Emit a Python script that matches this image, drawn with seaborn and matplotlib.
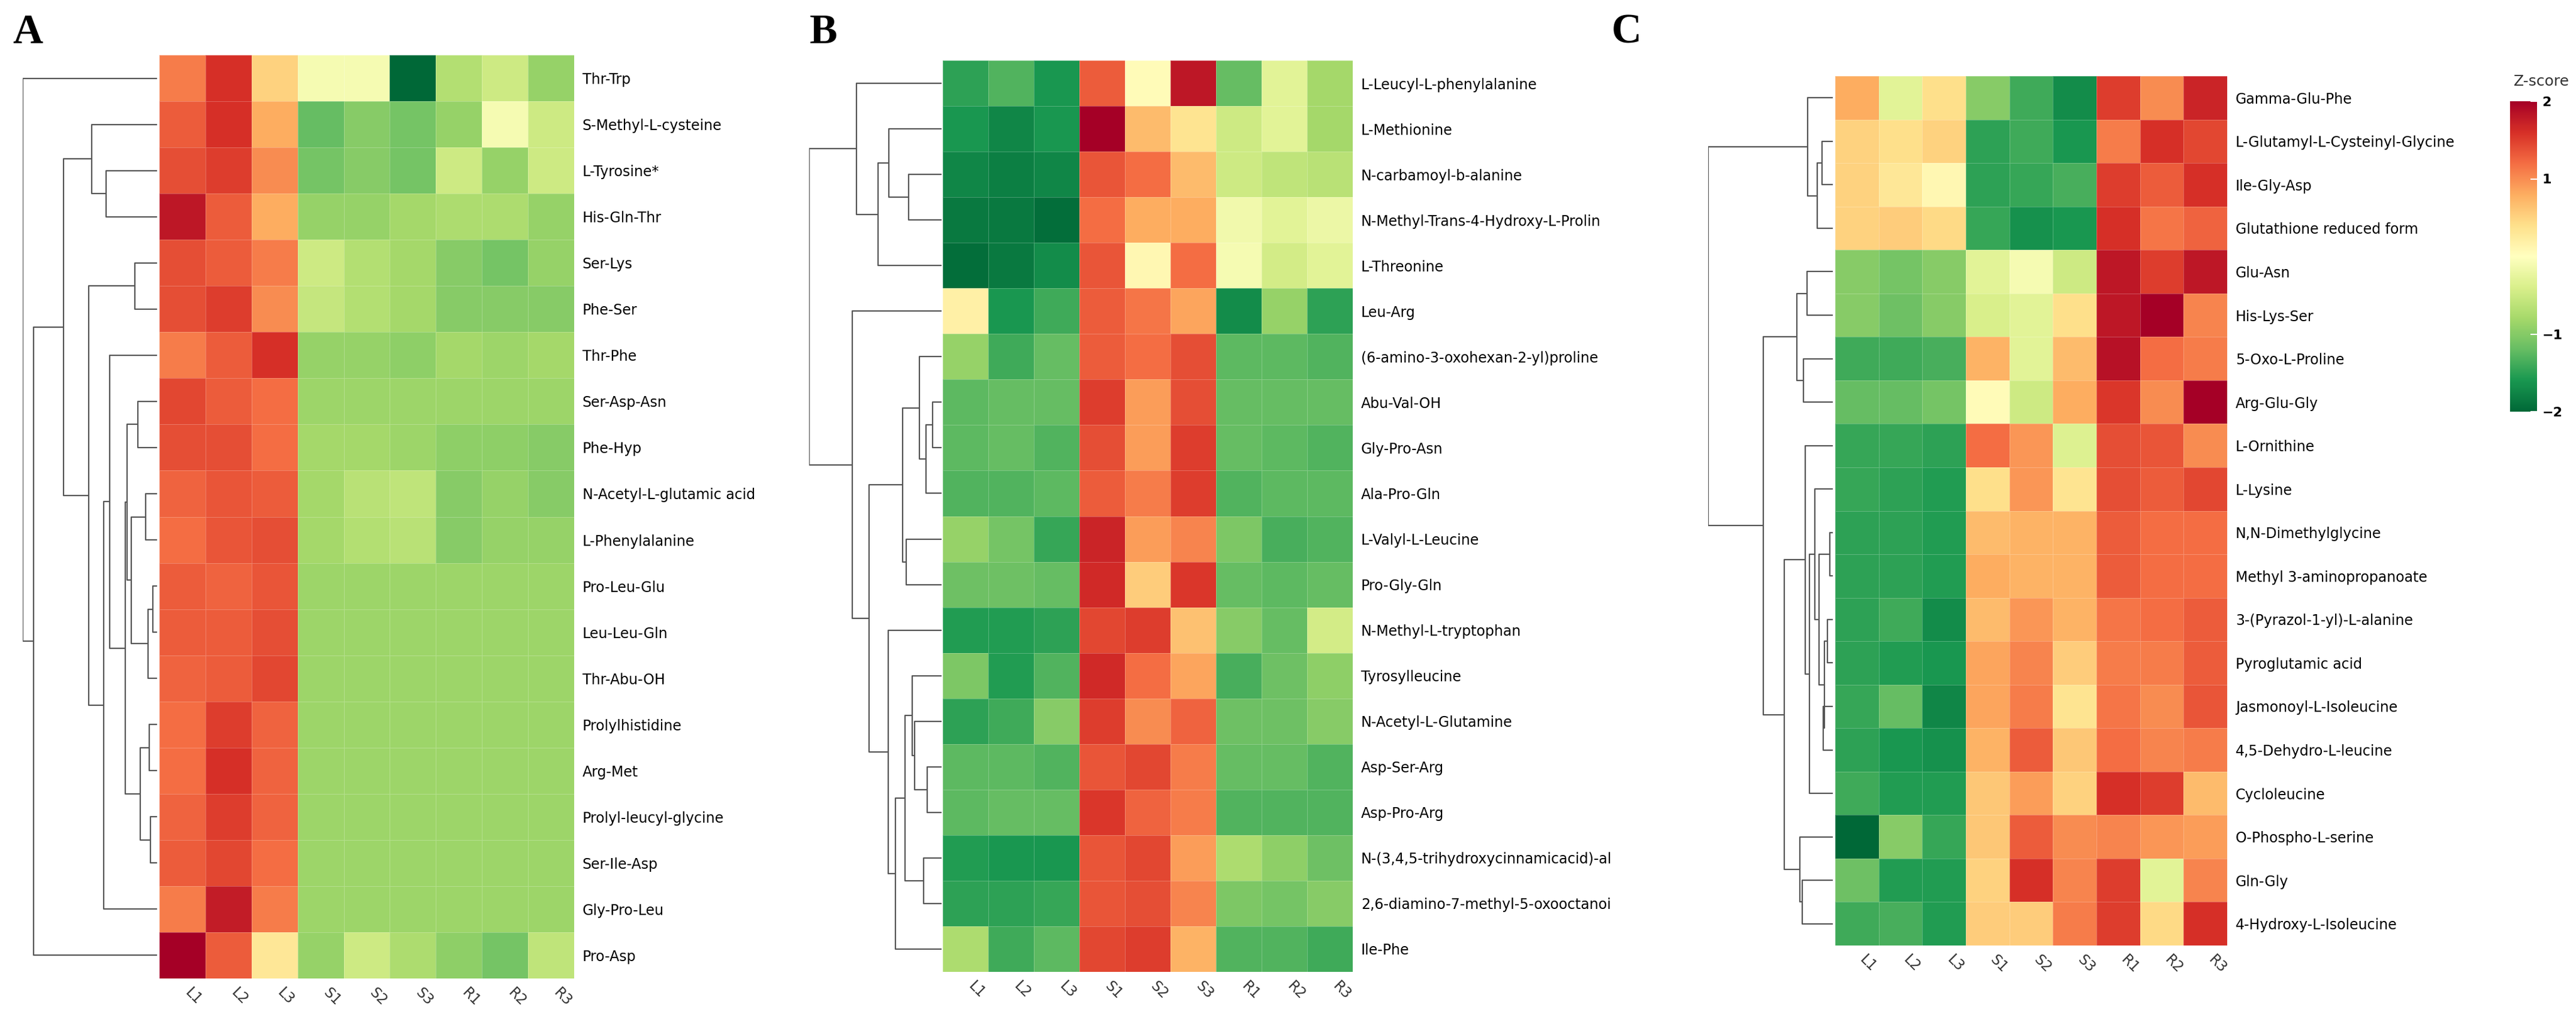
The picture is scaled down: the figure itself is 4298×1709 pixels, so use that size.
import numpy as np
import pandas as pd
import seaborn as sns
import matplotlib.pyplot as plt

W, H = 4298, 1709
samples = ["L1", "L2", "L3", "S1", "S2", "S3", "R1", "R2", "R3"]

# ---- panel A ----
rows_a = ["Thr-Trp", "S-Methyl-L-cysteine", "L-Tyrosine*", "His-Gln-Thr", "Ser-Lys", "Phe-Ser",
          "Thr-Phe", "Ser-Asp-Asn", "Phe-Hyp", "N-Acetyl-L-glutamic acid", "L-Phenylalanine",
          "Pro-Leu-Glu", "Leu-Leu-Gln", "Thr-Abu-OH", "Prolylhistidine", "Arg-Met",
          "Prolyl-leucyl-glycine", "Ser-Ile-Asp", "Gly-Pro-Leu", "Pro-Asp"]
vals_a = [
    [1.1, 1.6, 0.5, -0.1, -0.1, -2.0, -0.7, -0.5, -0.9],
    [1.3, 1.6, 0.8, -1.2, -1.0, -1.1, -0.9, -0.1, -0.5],
    [1.4, 1.5, 1.0, -1.1, -1.0, -1.1, -0.5, -0.9, -0.5],
    [1.8, 1.3, 0.8, -0.9, -0.9, -0.8, -0.75, -0.75, -0.9],
    [1.4, 1.3, 1.1, -0.5, -0.7, -0.8, -1.0, -1.1, -0.9],
    [1.4, 1.5, 1.0, -0.55, -0.7, -0.8, -1.0, -1.0, -1.0],
    [1.1, 1.3, 1.6, -0.9, -0.9, -0.95, -0.8, -0.85, -0.8],
    [1.45, 1.3, 1.2, -0.85, -0.85, -0.85, -0.85, -0.85, -0.85],
    [1.4, 1.4, 1.2, -0.8, -0.8, -0.85, -0.95, -0.95, -1.0],
    [1.25, 1.35, 1.3, -0.8, -0.65, -0.6, -1.0, -0.9, -1.0],
    [1.2, 1.35, 1.4, -0.8, -0.7, -0.65, -1.0, -0.9, -0.9],
    [1.3, 1.25, 1.35, -0.85, -0.85, -0.85, -0.85, -0.85, -0.85],
    [1.3, 1.3, 1.4, -0.85, -0.85, -0.85, -0.85, -0.85, -0.85],
    [1.25, 1.3, 1.45, -0.85, -0.85, -0.85, -0.85, -0.85, -0.85],
    [1.2, 1.5, 1.25, -0.85, -0.85, -0.85, -0.85, -0.85, -0.85],
    [1.2, 1.6, 1.25, -0.85, -0.85, -0.85, -0.85, -0.85, -0.85],
    [1.25, 1.5, 1.25, -0.85, -0.85, -0.85, -0.85, -0.85, -0.85],
    [1.3, 1.45, 1.2, -0.85, -0.85, -0.85, -0.85, -0.85, -0.85],
    [1.1, 1.75, 1.1, -0.85, -0.85, -0.85, -0.85, -0.85, -0.85],
    [2.0, 1.3, 0.3, -0.9, -0.5, -0.75, -0.95, -1.1, -0.6],
]
# tree: (merge position, left, right); leaves are row indices
tree_a = (25, 0, (80, (228, (370, 1, (440, 2, 3)),
                        (355, (585, 4, 5),
                         (428, (458, 6, (537, (545, (600, 7, 8), (565, (637, 9, 10), (650, (675, 11, 12), 13))),
                                         (612, (655, 14, 15), (662, 16, 17)))), 18))), 19))

# ---- panel B ----
rows_b = ["L-Leucyl-L-phenylalanine", "L-Methionine", "N-carbamoyl-b-alanine",
          "N-Methyl-Trans-4-Hydroxy-L-Prolin", "L-Threonine", "Leu-Arg",
          "(6-amino-3-oxohexan-2-yl)proline", "Abu-Val-OH", "Gly-Pro-Asn", "Ala-Pro-Gln",
          "L-Valyl-L-Leucine", "Pro-Gly-Gln", "N-Methyl-L-tryptophan", "Tyrosylleucine",
          "N-Acetyl-L-Glutamine", "Asp-Ser-Arg", "Asp-Pro-Arg",
          "N-(3,4,5-trihydroxycinnamicacid)-al", "2,6-diamino-7-methyl-5-oxooctanoi", "Ile-Phe"]
vals_b = [
    [-1.5, -1.3, -1.6, 1.3, 0.05, 1.8, -1.2, -0.3, -0.8],
    [-1.6, -1.75, -1.6, 2.0, 0.7, 0.35, -0.5, -0.3, -0.8],
    [-1.75, -1.8, -1.75, 1.35, 1.2, 0.7, -0.5, -0.6, -0.65],
    [-1.85, -1.85, -1.95, 1.2, 0.8, 0.8, -0.15, -0.3, -0.2],
    [-1.95, -1.85, -1.7, 1.35, 0.1, 1.2, -0.1, -0.45, -0.3],
    [0.2, -1.6, -1.4, 1.3, 1.15, 0.85, -1.7, -0.9, -1.5],
    [-0.9, -1.4, -1.2, 1.3, 1.2, 1.4, -1.25, -1.25, -1.3],
    [-1.25, -1.2, -1.2, 1.5, 0.9, 1.4, -1.2, -1.2, -1.2],
    [-1.25, -1.2, -1.3, 1.4, 0.9, 1.5, -1.2, -1.25, -1.3],
    [-1.3, -1.3, -1.25, 1.3, 1.1, 1.5, -1.3, -1.25, -1.25],
    [-0.9, -1.1, -1.45, 1.7, 0.9, 1.05, -1.05, -1.35, -1.3],
    [-1.15, -1.15, -1.2, 1.65, 0.55, 1.55, -1.2, -1.25, -1.2],
    [-1.55, -1.55, -1.5, 1.45, 1.5, 0.65, -1.0, -1.2, -0.45],
    [-1.05, -1.55, -1.3, 1.65, 1.2, 0.85, -1.35, -1.15, -0.95],
    [-1.5, -1.4, -1.0, 1.5, 1.0, 1.25, -1.15, -1.15, -1.0],
    [-1.25, -1.25, -1.3, 1.35, 1.45, 1.1, -1.2, -1.2, -1.3],
    [-1.25, -1.2, -1.2, 1.55, 1.25, 1.1, -1.3, -1.3, -1.3],
    [-1.55, -1.6, -1.6, 1.35, 1.45, 0.9, -0.75, -0.95, -1.15],
    [-1.5, -1.5, -1.45, 1.35, 1.4, 1.05, -1.05, -1.1, -1.0],
    [-0.75, -1.4, -1.25, 1.45, 1.5, 0.75, -1.3, -1.3, -1.4],
]
tree_b = (30, (268, 0, (375, (430, 1, (530, 2, 3)), 4)),
          (248, 5, (330, (500, (585, 6, (618, (650, 7, 8), 9)), (518, 10, 11)),
                    (428, 12, (462, (512, (548, 13, (560, 14, (622, 15, 16))), (605, 17, 18)), 19)))))

# ---- panel C ----
rows_c = ["Gamma-Glu-Phe", "L-Glutamyl-L-Cysteinyl-Glycine", "Ile-Gly-Asp", "Glutathione reduced form",
          "Glu-Asn", "His-Lys-Ser", "5-Oxo-L-Proline", "Arg-Glu-Gly", "L-Ornithine", "L-Lysine",
          "N,N-Dimethylglycine", "Methyl 3-aminopropanoate", "3-(Pyrazol-1-yl)-L-alanine",
          "Pyroglutamic acid", "Jasmonoyl-L-Isoleucine", "4,5-Dehydro-L-leucine", "Cycloleucine",
          "O-Phospho-L-serine", "Gln-Gly", "4-Hydroxy-L-Isoleucine"]
vals_c = [
    [0.8, -0.3, 0.4, -1.0, -1.4, -1.7, 1.5, 1.0, 1.7],
    [0.5, 0.4, 0.5, -1.5, -1.4, -1.6, 1.1, 1.6, 1.45],
    [0.5, 0.3, 0.1, -1.5, -1.45, -1.35, 1.5, 1.3, 1.6],
    [0.5, 0.55, 0.45, -1.45, -1.65, -1.6, 1.6, 1.15, 1.25],
    [-1.0, -1.1, -1.0, -0.3, -0.1, -0.5, 1.8, 1.5, 1.8],
    [-1.0, -1.15, -1.0, -0.4, -0.3, 0.4, 1.8, 2.0, 1.05],
    [-1.4, -1.4, -1.35, 0.75, -0.3, 0.7, 1.85, 1.2, 1.1],
    [-1.2, -1.2, -1.1, 0.05, -0.5, 0.8, 1.55, 1.0, 2.0],
    [-1.45, -1.45, -1.5, 1.2, 0.95, -0.35, 1.4, 1.35, 1.0],
    [-1.45, -1.5, -1.55, 0.4, 0.95, 0.35, 1.4, 1.3, 1.45],
    [-1.5, -1.5, -1.55, 0.7, 0.75, 0.75, 1.3, 1.2, 1.2],
    [-1.5, -1.5, -1.55, 0.8, 0.75, 0.75, 1.3, 1.2, 1.2],
    [-1.5, -1.4, -1.7, 0.7, 0.95, 0.75, 1.15, 1.2, 1.3],
    [-1.5, -1.55, -1.6, 0.85, 1.05, 0.55, 1.1, 1.1, 1.3],
    [-1.45, -1.2, -1.75, 0.85, 1.1, 0.35, 1.15, 1.0, 1.35],
    [-1.5, -1.6, -1.65, 0.75, 1.3, 0.6, 1.2, 1.05, 1.1],
    [-1.4, -1.55, -1.55, 0.6, 0.9, 0.5, 1.6, 1.5, 0.7],
    [-2.0, -1.0, -1.45, 0.6, 1.3, 1.0, 1.05, 0.95, 0.9],
    [-1.15, -1.55, -1.55, 0.5, 1.6, 1.05, 1.5, -0.3, 1.05],
    [-1.4, -1.35, -1.55, 0.55, 0.55, 1.1, 1.5, 0.45, 1.6],
]
tree_c = (0, (180, 0, (197, (205, 1, 2), 3)),
          (100, (160, (178, 4, 5), (172, 6, 7)),
           (137, (175, 8, (183, (193, 9, (200, (220, 10, 11), (210, (215, 12, 13), (208, 14, 15)))), 16)),
            (165, 17, (170, 18, 19)))))


def draw_tree(ax, node, leaf_x):
    # returns (y, depth) of node; depth measured from leaves
    if isinstance(node, int):
        return node + 0.5, 0
    pos, left, right = node
    h = leaf_x - pos
    yl, hl = draw_tree(ax, left, leaf_x)
    yr, hr = draw_tree(ax, right, leaf_x)
    ax.plot([hl, h, h, hr], [yl, yl, yr, yr], color="#555555", lw=1.6, solid_capstyle="butt")
    return (yl + yr) / 2, h


def box(x0, y0, x1, y1):
    return [x0 / W, 1 - y1 / H, (x1 - x0) / W, (y1 - y0) / H]


fig = plt.figure(figsize=(W / 100, H / 100), dpi=100)
cmap = "RdYlGn_r"

panels = [
    (rows_a, vals_a, tree_a, 695, (266, 92, 958, 1633), (38, 262), "A", 18),
    (rows_b, vals_b, tree_b, 695, (1573, 101, 2257, 1622), (1350, 1571), "B", 1346),
    (rows_c, vals_c, tree_c, 225, (3062, 127, 3716, 1578), (2850, 3058), "C", 2686),
]

for rows, vals, tree, leaf_x, hb, db, letter, lx in panels:
    df = pd.DataFrame(vals, index=rows, columns=samples)
    ax = fig.add_axes(box(*hb))
    sns.heatmap(df, ax=ax, cmap=cmap, vmin=-2, vmax=2, cbar=False,
                linewidths=0.4, linecolor="#ffffff40")
    ax.yaxis.tick_right()
    ax.tick_params(axis="y", length=0, labelsize=17, pad=10, labelrotation=0)
    ax.tick_params(axis="x", length=0, labelsize=17, pad=8, labelcolor="#333333")
    for t in ax.get_xticklabels():
        t.set_rotation(-45)
        t.set_ha("left")
        t.set_va("top")
    ax.set_xlabel("")
    ax.set_ylabel("")

    dax = fig.add_axes(box(db[0], hb[1], db[1], hb[3]))
    draw_tree(dax, tree, leaf_x)
    root_h = leaf_x - tree[0]
    dax.set_xlim(root_h, 0)
    dax.set_ylim(len(rows), 0)
    dax.axis("off")

    fig.text((lx + 28) / W, 1 - 55 / H, letter, fontsize=50, fontweight="bold",
             family="Liberation Serif", ha="center", va="center")

cax = fig.add_axes(box(4188, 169, 4233, 687))
cb = fig.colorbar(ax.collections[0], cax=cax, ticks=[-2, -1, 1, 2])
cb.outline.set_visible(False)
cb.ax.tick_params(length=8, width=1.5, color="white", direction="in", labelsize=16, pad=6)
cb.ax.set_yticklabels(["\u22122", "\u22121", "1", "2"], fontweight="bold")
fig.text(4240 / W, 1 - 136 / H, "Z-score", fontsize=18, ha="center", va="center", color="#333333")

fig.savefig("out.png", dpi=100, facecolor="white")
